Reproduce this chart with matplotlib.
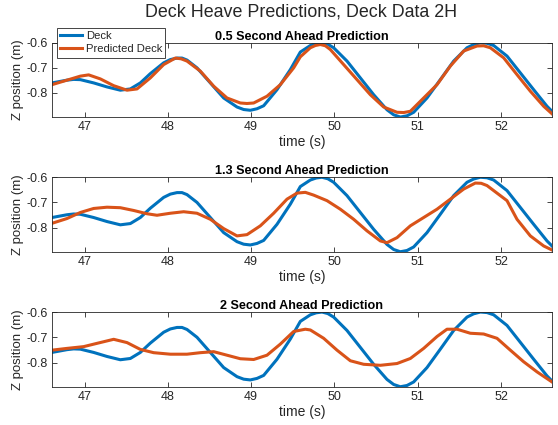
import matplotlib
matplotlib.use('Agg')
import matplotlib.pyplot as plt

plt.rcParams['font.family'] = ['Liberation Sans', 'DejaVu Sans']

# deck heave (same measured signal in every panel)
t_deck = [46.61, 46.79, 46.87, 46.95, 47.11, 47.27, 47.43, 47.55, 47.67, 47.79, 47.95,
          48.03, 48.11, 48.17, 48.23, 48.35, 48.51, 48.67, 48.83, 48.91, 48.99, 49.07,
          49.15, 49.31, 49.47, 49.59, 49.71, 49.78, 49.85, 49.92, 49.99, 50.15, 50.31,
          50.47, 50.63, 50.71, 50.79, 50.87, 50.95, 51.11, 51.27, 51.43, 51.59, 51.67,
          51.75, 51.83, 51.91, 52.07, 52.23, 52.39, 52.55, 52.61]
z_deck = [-0.760, -0.749, -0.746, -0.747, -0.760, -0.776, -0.789, -0.784, -0.760, -0.723, -0.680,
          -0.667, -0.661, -0.661, -0.669, -0.700, -0.760, -0.820, -0.856, -0.866, -0.869, -0.863,
          -0.851, -0.787, -0.707, -0.637, -0.611, -0.603, -0.600, -0.606, -0.620, -0.673, -0.740,
          -0.807, -0.867, -0.887, -0.896, -0.891, -0.877, -0.820, -0.747, -0.673, -0.620, -0.607,
          -0.600, -0.602, -0.611, -0.653, -0.720, -0.787, -0.853, -0.873]

# 0.5 s ahead prediction
t_p05 = [46.61, 46.79, 46.95, 47.05, 47.19, 47.35, 47.51, 47.63, 47.79, 47.95,
         48.09, 48.16, 48.23, 48.39, 48.55, 48.71, 48.87, 48.95, 49.03, 49.19, 49.35,
         49.51, 49.59, 49.71, 49.77, 49.83, 49.89, 49.95, 50.11, 50.27, 50.43, 50.59,
         50.75, 50.83, 50.91, 51.07, 51.23, 51.39, 51.55, 51.71, 51.79, 51.87, 52.03,
         52.19, 52.35, 52.51, 52.61]
z_p05 = [-0.767, -0.749, -0.733, -0.728, -0.744, -0.771, -0.789, -0.784, -0.740, -0.687,
         -0.661, -0.664, -0.673, -0.713, -0.773, -0.820, -0.840, -0.842, -0.840, -0.813, -0.767,
         -0.700, -0.656, -0.620, -0.611, -0.607, -0.612, -0.627, -0.687, -0.747, -0.807, -0.856,
         -0.877, -0.878, -0.873, -0.820, -0.767, -0.693, -0.633, -0.613, -0.612, -0.620, -0.660,
         -0.727, -0.793, -0.853, -0.883]

# 1.3 s ahead prediction
t_p13 = [46.61, 46.79, 46.95, 47.11, 47.27, 47.43, 47.59, 47.75, 47.87, 48.03,
         48.19, 48.35, 48.51, 48.67, 48.83, 48.95, 49.11, 49.27, 49.43, 49.55,
         49.65, 49.75, 49.91, 50.07, 50.23, 50.39, 50.55, 50.63, 50.75, 50.91,
         51.07, 51.23, 51.39, 51.55, 51.69, 51.76, 51.83, 51.99, 52.07, 52.19, 52.35,
         52.51, 52.61]
z_p13 = [-0.783, -0.764, -0.740, -0.724, -0.719, -0.721, -0.732, -0.745, -0.751, -0.743,
         -0.737, -0.743, -0.767, -0.804, -0.833, -0.828, -0.793, -0.743, -0.687, -0.663,
         -0.660, -0.671, -0.693, -0.727, -0.767, -0.813, -0.853, -0.860, -0.840, -0.793,
         -0.760, -0.727, -0.687, -0.647, -0.623, -0.624, -0.633, -0.673, -0.693, -0.767, -0.833,
         -0.873, -0.889]

# 2 s ahead prediction
t_p20 = [46.61, 46.79, 46.99, 47.15, 47.35, 47.51, 47.67, 47.83, 48.03, 48.23,
         48.39, 48.55, 48.71, 48.87, 49.03, 49.19, 49.35, 49.51, 49.65, 49.71,
         49.87, 50.03, 50.19, 50.35, 50.55, 50.75, 50.91, 51.07, 51.23, 51.35,
         51.47, 51.63, 51.79, 51.95, 52.11, 52.27, 52.43, 52.61]
z_p20 = [-0.751, -0.744, -0.737, -0.724, -0.708, -0.721, -0.748, -0.761, -0.767, -0.767,
         -0.761, -0.757, -0.771, -0.785, -0.788, -0.771, -0.727, -0.677, -0.668, -0.671,
         -0.704, -0.751, -0.793, -0.807, -0.811, -0.804, -0.784, -0.744, -0.697, -0.668,
         -0.668, -0.684, -0.687, -0.704, -0.751, -0.797, -0.837, -0.877]

titles = ['0.5 Second Ahead Prediction', '1.3 Second Ahead Prediction',
          '2 Second Ahead Prediction']
preds = [(t_p05, z_p05), (t_p13, z_p13), (t_p20, z_p20)]
yticks = [-0.6, -0.7, -0.8]
xticks = [47, 48, 49, 50, 51, 52]

blue = '#0072BD'
orange = '#D95319'
dark = '#262626'

W, H = 558, 425
fig = plt.figure(figsize=(W / 100, H / 100), dpi=100)

# axes boxes in pixels: (left, top, right, bottom)
boxes = [(52, 42.5, 552, 117.3), (52, 177, 552, 252), (52, 311.8, 552, 387)]

for i, (l, t, r, b) in enumerate(boxes):
    ax = fig.add_axes([l / W, 1 - b / H, (r - l) / W, (b - t) / H])
    ax.plot(t_deck, z_deck, color=blue, lw=2.2, label='Deck',
            solid_joinstyle='round')
    ax.plot(preds[i][0], preds[i][1], color=orange, lw=2.2, label='Predicted Deck',
            solid_joinstyle='round')
    ax.set_xlim(46.61, 52.61)
    ax.set_ylim(-0.897, -0.599)
    ax.set_xticks(xticks)
    ax.set_yticks(yticks)
    ax.set_yticklabels(['-0.6', '-0.7', '-0.8'])
    ax.tick_params(direction='in', length=3.5, width=0.6, colors=dark,
                   labelsize=9, top=True, right=True, pad=3)
    for s in ax.spines.values():
        s.set_color(dark)
        s.set_linewidth(0.6)
    ax.set_title(titles[i], fontsize=9.1, fontweight='bold', color='black', pad=2)
    ax.set_xlabel('time (s)', fontsize=10, color=dark, labelpad=1)
    ax.set_ylabel('Z position (m)', fontsize=9.5, color=dark, labelpad=2)
    if i == 0:
        handles, labels = ax.get_legend_handles_labels()

fig.text(301 / W, 1 - 12 / H, 'Deck Heave Predictions, Deck Data 2H',
         ha='center', va='center', fontsize=12.9, color=dark)

leg = fig.legend(handles, labels, loc='upper left', bbox_to_anchor=(57 / W, 1 - 28 / H),
                 fontsize=8.1, frameon=True, fancybox=False, framealpha=1,
                 edgecolor=dark, handlelength=1.9, handletextpad=0.35,
                 borderpad=0.3, labelspacing=0.25, borderaxespad=0)
leg.get_frame().set_linewidth(0.6)
for txt in leg.get_texts():
    txt.set_color(dark)

fig.savefig('out.png', dpi=100, facecolor='white')
